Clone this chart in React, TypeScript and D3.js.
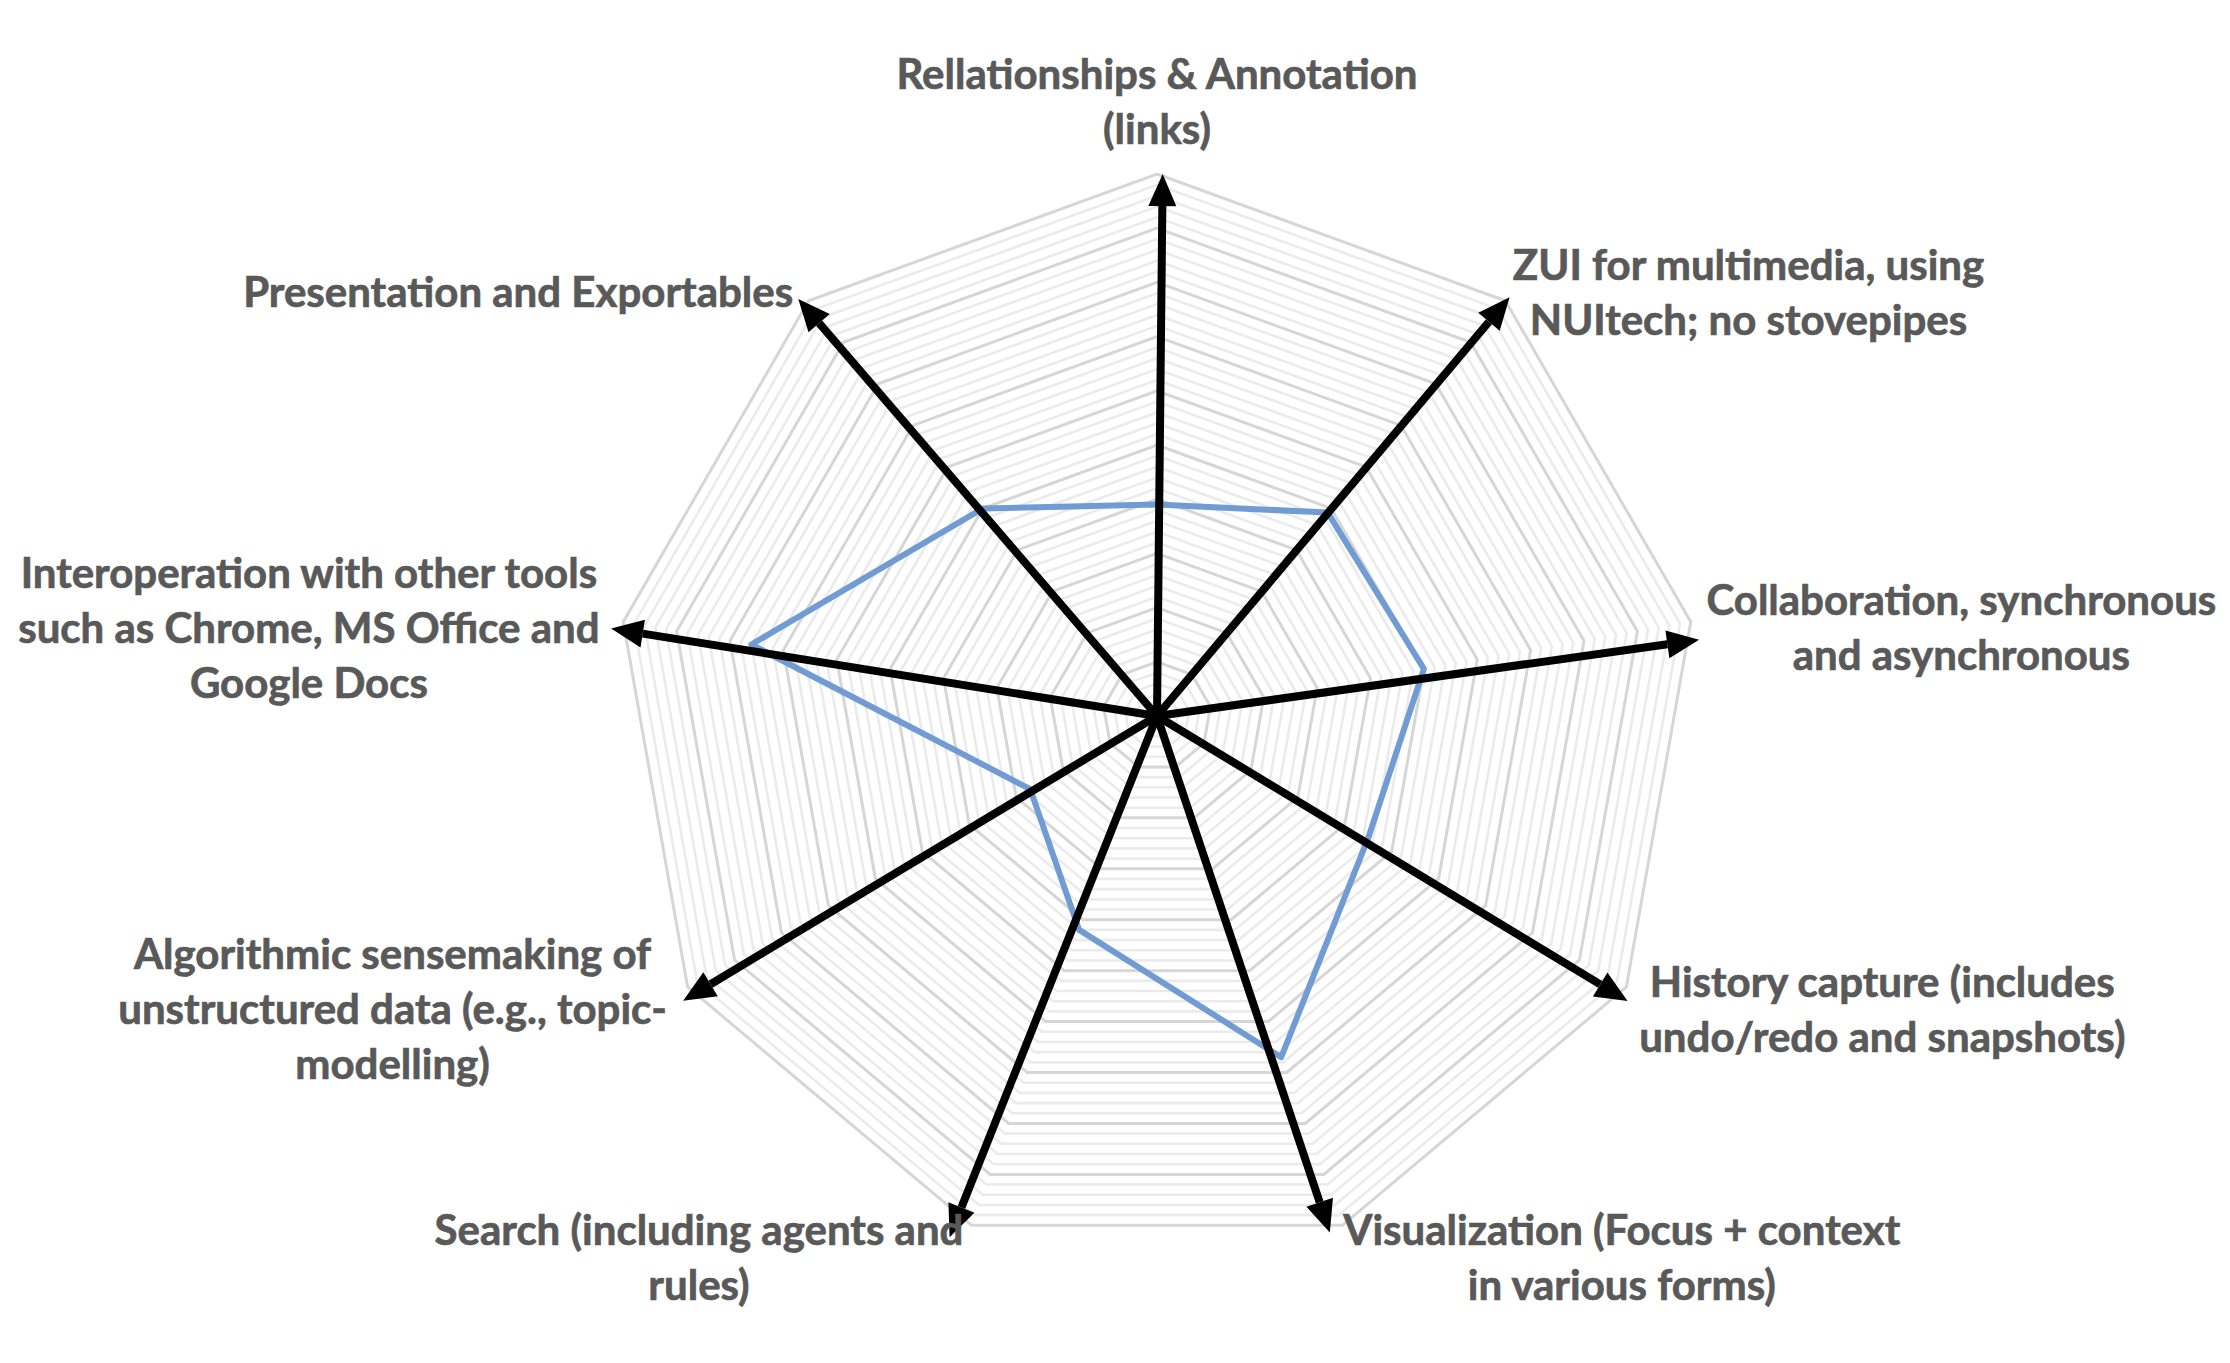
import React, { useEffect, useRef } from 'react';
import * as d3 from 'd3';

// axis labels, one entry per spoke (clockwise from top), split in lines as in the source
const categories: string[][] = [
  ['Rellationships & Annotation', '(links)'],
  ['ZUI for multimedia, using', 'NUItech; no stovepipes'],
  ['Collaboration, synchronous', 'and asynchronous'],
  ['History capture (includes', 'undo/redo and snapshots)'],
  ['Visualization (Focus + context', 'in various forms)'],
  ['Search (including agents and', 'rules)'],
  ['Algorithmic sensemaking of', 'unstructured data (e.g., topic-', 'modelling)'],
  ['Interoperation with other tools', 'such as Chrome, MS Office and', 'Google Docs'],
  ['Presentation and Exportables'],
];

// series values (scale 0..10)
const values = [3.9, 4.9, 5.0, 4.5, 6.7, 4.2, 2.7, 7.6, 5.0];

// the hand-drawn black arrows sit a little off the real spokes (degrees, clockwise from top)
const arrowAngles = [0.6, 40.1, 82, 121.2, 161.5, 201.7, 239, 279.1, 319.3];
const arrowReach = [10.0, 10.1, 10.1, 10.15, 10.05, 10.35, 10.2, 10.2, 10.15];

const maxValue = 10;
const minorPerMajor = 5;

const App = () => {
  const svgRef = useRef<SVGSVGElement>(null);

  useEffect(() => {
    const svg = d3.select(svgRef.current);
    svg.selectAll('*').remove();

    const cx = 1157;
    const cy = 716;
    const radius = 542;
    const n = categories.length;

    const angle = d3.scaleLinear().domain([0, n]).range([0, 2 * Math.PI]);
    const r = d3.scaleLinear().domain([0, maxValue]).range([0, radius]);

    const g = svg.append('g').attr('transform', `translate(${cx},${cy})`);

    const ring = (v: number) =>
      d3
        .lineRadial<number>()
        .angle((_, i) => angle(i))
        .radius(() => r(v))
        .curve(d3.curveLinearClosed)(d3.range(n));

    // grid rings: minor first, major on top
    const steps = d3.range(1, maxValue * minorPerMajor + 1);
    g.selectAll('.minor')
      .data(steps.filter((k) => k % minorPerMajor !== 0))
      .enter()
      .append('path')
      .attr('d', (k) => ring(k / minorPerMajor))
      .attr('fill', 'none')
      .attr('stroke', '#ebebeb')
      .attr('stroke-width', 2.6);

    g.selectAll('.major')
      .data(steps.filter((k) => k % minorPerMajor === 0))
      .enter()
      .append('path')
      .attr('d', (k) => ring(k / minorPerMajor))
      .attr('fill', 'none')
      .attr('stroke', '#d6d6d6')
      .attr('stroke-width', 3);

    // series
    const seriesLine = d3
      .lineRadial<number>()
      .angle((_, i) => angle(i))
      .radius((d) => r(d))
      .curve(d3.curveLinearClosed);

    g.append('path')
      .attr('d', seriesLine(values))
      .attr('fill', 'none')
      .attr('stroke', '#719cd3')
      .attr('stroke-width', 6)
      .attr('stroke-linejoin', 'round');

    // black arrows
    const headLen = 32;
    const headHalf = 14;
    arrowAngles.forEach((deg, i) => {
      const a = (deg * Math.PI) / 180;
      const len = r(arrowReach[i]);
      const ux = Math.sin(a);
      const uy = -Math.cos(a);
      const tip = [ux * len, uy * len];
      const base = [ux * (len - headLen), uy * (len - headLen)];
      g.append('line')
        .attr('x1', 0)
        .attr('y1', 0)
        .attr('x2', base[0])
        .attr('y2', base[1])
        .attr('stroke', '#000')
        .attr('stroke-width', 8);
      g.append('path')
        .attr(
          'd',
          `M${tip[0]},${tip[1]}L${base[0] - uy * headHalf},${base[1] + ux * headHalf}L${base[0] + uy * headHalf},${base[1] - ux * headHalf}Z`
        )
        .attr('fill', '#000');
    });

    // labels
    const lineH = 55;
    const gap = 24;
    categories.forEach((lines, i) => {
      const a = angle(i);
      const px = Math.sin(a) * (radius + gap);
      const py = -Math.cos(a) * (radius + gap);
      const t = g
        .append('text')
        .attr('fill', '#595959')
        .attr('stroke', '#595959')
        .attr('stroke-width', 0.7)
        .attr('font-family', 'Lato, "Open Sans", sans-serif')
        .attr('font-weight', 700)
        .attr('font-size', 42)
        .attr('text-anchor', 'middle')
        .attr('dominant-baseline', 'central');
      lines.forEach((s, j) => {
        t.append('tspan').attr('x', 0).attr('y', j * lineH).text(s);
      });
      const w = (t.node() as SVGTextElement).getBBox().width;
      const k = lines.length;
      let x = px;
      let y = py + 9 - ((k - 1) * lineH) / 2;
      if (Math.abs(Math.sin(a)) < 0.1) {
        y = py - 22 - (k - 1) * lineH;
      } else if (px > 0) {
        x = px - 8 + w / 2;
      } else {
        x = px - w / 2;
      }
      t.attr('transform', `translate(${x},${y})`);
    });
  }, []);

  return (
    <svg
      ref={svgRef}
      width={2230}
      height={1363}
      style={{ position: 'absolute', left: 0, top: 0, background: '#fff' }}
    ></svg>
  );
};

export default App;
